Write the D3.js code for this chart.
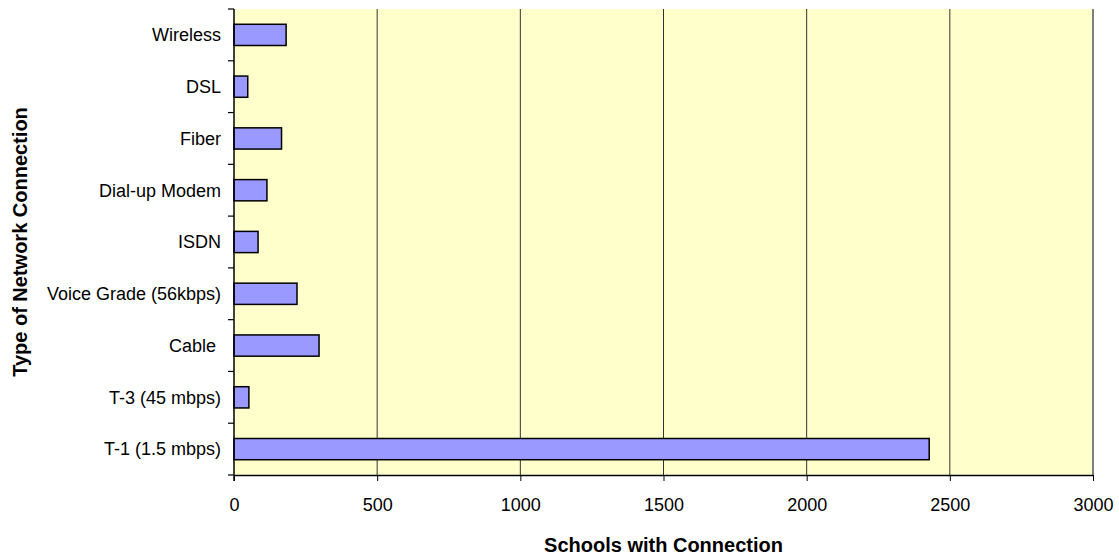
<!DOCTYPE html>
<html>
<head>
<meta charset="utf-8">
<script src="https://cdn.jsdelivr.net/npm/d3@7"></script>
<style>
  html, body { margin: 0; padding: 0; background: #ffffff; }
  svg { display: block; font-family: "Liberation Sans", Arial, sans-serif; }
</style>
</head>
<body>
<svg id="chart" width="1119" height="556"></svg>
<script>
// Network connection types, listed bottom to top as they appear on the axis
const categories = [
  "T-1 (1.5 mbps)",
  "T-3 (45 mbps)",
  "Cable ",
  "Voice Grade (56kbps)",
  "ISDN",
  "Dial-up Modem",
  "Fiber",
  "DSL",
  "Wireless"
];
// Number of schools using each connection type
const schools = [2428, 52, 297, 220, 84, 115, 166, 48, 182];
const xTicks = [0, 500, 1000, 1500, 2000, 2500, 3000];
const xTitle = "Schools with Connection";
const yTitle = "Type of Network Connection";

const svg = d3.select("#chart");
const plot = { left: 234, right: 1093, top: 9, bottom: 475 };

const x = d3.scaleLinear().domain([0, 3000]).range([plot.left, plot.right]);
// Top category first in the domain so that the first row sits at the top
const y = d3.scaleBand()
  .domain(categories.slice().reverse())
  .range([plot.top, plot.bottom])
  .paddingInner(0.59)
  .paddingOuter(0.295);
const yBounds = d3.scaleBand()
  .domain(categories.slice().reverse())
  .range([plot.top, plot.bottom]);

// Plot background
svg.append("rect")
  .attr("x", plot.left).attr("y", plot.top)
  .attr("width", plot.right - plot.left)
  .attr("height", plot.bottom - plot.top)
  .attr("fill", "#ffffcc");

// Vertical gridlines
svg.append("g")
  .selectAll("line")
  .data(xTicks.filter(d => d > 0 && d < 3000))
  .join("line")
  .attr("x1", d => x(d)).attr("x2", d => x(d))
  .attr("y1", plot.top).attr("y2", plot.bottom)
  .attr("stroke", "#333333")
  .attr("stroke-width", 1);

// Right-hand frame edge
svg.append("line")
  .attr("x1", x(3000)).attr("x2", x(3000))
  .attr("y1", plot.top).attr("y2", plot.bottom)
  .attr("stroke", "#808080")
  .attr("stroke-width", 2);

// Bars
svg.append("g")
  .selectAll("rect")
  .data(categories.map((c, i) => ({ c, v: schools[i] })))
  .join("rect")
  .attr("x", x(0))
  .attr("y", d => y(d.c))
  .attr("width", d => x(d.v) - x(0))
  .attr("height", y.bandwidth())
  .attr("fill", "#9999ff")
  .attr("stroke", "#000000")
  .attr("stroke-width", 1.5);

// X axis
const xAxis = svg.append("g")
  .attr("transform", `translate(0,${plot.bottom})`)
  .call(d3.axisBottom(x).tickValues(xTicks).tickFormat(d3.format("d"))
    .tickSize(6).tickPadding(17).tickSizeOuter(0));
xAxis.select(".domain").attr("stroke", "#000").attr("stroke-width", 1.5);
xAxis.selectAll(".tick line").attr("stroke", "#000");
xAxis.selectAll(".tick text")
  .attr("font-size", 18)
  .attr("font-family", "Liberation Sans, Arial, sans-serif")
  .attr("fill", "#000");

// Y axis: ticks mark the boundaries between categories
const yAxisG = svg.append("g").attr("transform", `translate(${plot.left},0)`);
yAxisG.append("line")
  .attr("x1", 0).attr("x2", 0)
  .attr("y1", plot.top).attr("y2", plot.bottom + 6)
  .attr("stroke", "#000").attr("stroke-width", 1.5);
const boundaries = categories.slice().reverse().map(c => yBounds(c)).concat([plot.bottom]);
yAxisG.selectAll("line.bound")
  .data(boundaries)
  .join("line")
  .attr("class", "bound")
  .attr("x1", -6).attr("x2", 0)
  .attr("y1", d => d).attr("y2", d => d)
  .attr("stroke", "#000").attr("stroke-width", 1.2);
yAxisG.selectAll("text")
  .data(categories)
  .join("text")
  .attr("x", -13)
  .attr("y", d => yBounds(d) + yBounds.bandwidth() / 2)
  .attr("dy", "0.35em")
  .attr("text-anchor", "end")
  .attr("font-size", 18)
  .attr("fill", "#000")
  .style("white-space", "pre")
  .text(d => d);

// Axis titles
svg.append("text")
  .attr("x", (plot.left + plot.right) / 2)
  .attr("y", 552)
  .attr("text-anchor", "middle")
  .attr("font-size", 20)
  .attr("font-weight", "bold")
  .attr("fill", "#000")
  .text(xTitle);

svg.append("text")
  .attr("transform", `translate(27,${(plot.top + plot.bottom) / 2}) rotate(-90)`)
  .attr("text-anchor", "middle")
  .attr("font-size", 20)
  .attr("font-weight", "bold")
  .attr("fill", "#000")
  .text(yTitle);
</script>
</body>
</html>
